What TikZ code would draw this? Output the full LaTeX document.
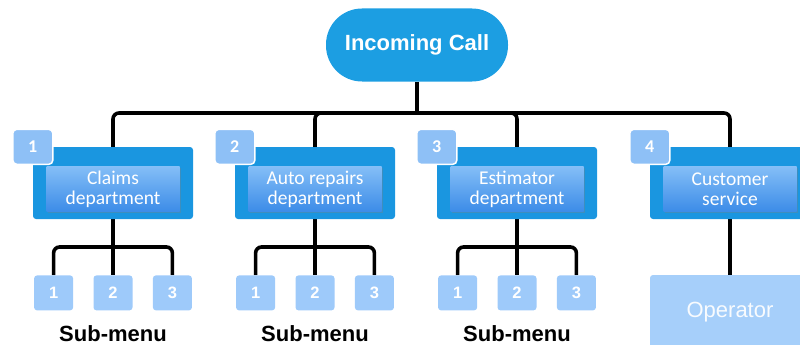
\documentclass[tikz,border=0pt]{standalone}
\usepackage{fontspec}
\setmainfont{Liberation Sans}
\newfontfamily\calfont{Carlito}
\usepackage{xcolor}
\usepackage{tikz}
\usetikzlibrary{positioning, backgrounds, shadows}
\definecolor{callblue}{RGB}{28,158,226}
\definecolor{deptblue}{RGB}{26,150,224}
\definecolor{innertop}{RGB}{132,190,247}
\definecolor{innerbot}{RGB}{60,140,232}
\definecolor{badgeblue}{RGB}{142,192,246}
\definecolor{subblue}{RGB}{158,202,250}
\definecolor{opblue}{RGB}{166,207,250}

\begin{document}
\begin{tikzpicture}[
    x=1pt, y=-1pt,
    node distance=20pt,
    call/.style={rectangle, rounded corners=36pt, fill=callblue, minimum width=182pt, minimum height=73pt, text=white, font=\fontsize{22}{24}\selectfont\bfseries},
    dept/.style={rectangle, rounded corners=3pt, fill=deptblue, minimum width=160pt, minimum height=72pt},
    deptname/.style={rectangle, top color=innertop, bottom color=innerbot, minimum width=133pt, minimum height=45pt, inner sep=0pt, text=white, align=center, font=\calfont\fontsize{19.5}{20}\selectfont, drop shadow={shadow xshift=1pt, shadow yshift=-1.5pt, opacity=0.35}},
    badge/.style={rectangle, rounded corners=4pt, fill=badgeblue, draw=white, line width=1.5pt, minimum width=40pt, minimum height=35pt, text=white, font=\calfont\fontsize{18}{18}\selectfont\bfseries},
    sub/.style={rectangle, rounded corners=3pt, fill=subblue, minimum width=39pt, minimum height=35pt, text=white, font=\fontsize{16.5}{16.5}\selectfont\bfseries},
    menu/.style={inner sep=0pt, font=\fontsize{22}{24}\selectfont\bfseries},
    operator/.style={rectangle, rounded corners=3pt, fill=opblue, minimum width=160pt, minimum height=74pt, text=white!92!opblue, font=\fontsize{22}{24}\selectfont},
    wire/.style={line width=3.6pt, rounded corners=6pt}
]
\useasboundingbox (0,0) rectangle (800,345);

\node[call] (call) at (417,45) {Incoming Call};
\coordinate (bus) at (417,113);

\node[dept] (d1) at (113,183) {};
\node[dept] (d2) at (315,183) {};
\node[dept] (d3) at (517,183) {};
\node[dept] (d4) at (730,183) {};
\node[deptname] (d1t) at (113,189) {Claims\\department};
\node[deptname] (d2t) at (315,189) {Auto repairs\\department};
\node[deptname] (d3t) at (517,189) {Estimator\\department};
\node[deptname] (d4t) at (730,189) {Customer\\service};
\node[badge] (b1) at (d1.north west) {1};
\node[badge] (b2) at (d2.north west) {2};
\node[badge] (b3) at (d3.north west) {3};
\node[badge] (b4) at (d4.north west) {4};

\node[sub, below=56pt of d1] (s12) {2};
\node[sub, left=of s12] (s11) {1};
\node[sub, right=of s12] (s13) {3};
\node[sub, below=56pt of d2] (s22) {2};
\node[sub, left=of s22] (s21) {1};
\node[sub, right=of s22] (s23) {3};
\node[sub, below=56pt of d3] (s32) {2};
\node[sub, left=of s32] (s31) {1};
\node[sub, right=of s32] (s33) {3};
\node[menu, below=15pt of s12] (m1) {Sub-menu};
\node[menu, below=15pt of s22] (m2) {Sub-menu};
\node[menu, below=15pt of s32] (m3) {Sub-menu};
\node[operator] (op) at (730,312) {Operator};

\coordinate (j1) at (113,247);
\coordinate (j2) at (315,247);
\coordinate (j3) at (517,247);

\begin{scope}[on background layer]
% top level
\draw[wire] (call) -- (bus);
\draw[wire] (bus) -| (d1);
\draw[wire] (bus) -| (d2);
\draw[wire] (bus) -| (d3);
\draw[wire] (bus) -| (d4);
% sub-menus
\draw[wire] (d1) -- (j1);
\draw[wire] (j1) -| (s11);
\draw[wire] (j1) -- (s12);
\draw[wire] (j1) -| (s13);
\draw[wire] (d2) -- (j2);
\draw[wire] (j2) -| (s21);
\draw[wire] (j2) -- (s22);
\draw[wire] (j2) -| (s23);
\draw[wire] (d3) -- (j3);
\draw[wire] (j3) -| (s31);
\draw[wire] (j3) -- (s32);
\draw[wire] (j3) -| (s33);
\draw[wire] (d4) -- (op);
\end{scope}
\end{tikzpicture}
\end{document}
